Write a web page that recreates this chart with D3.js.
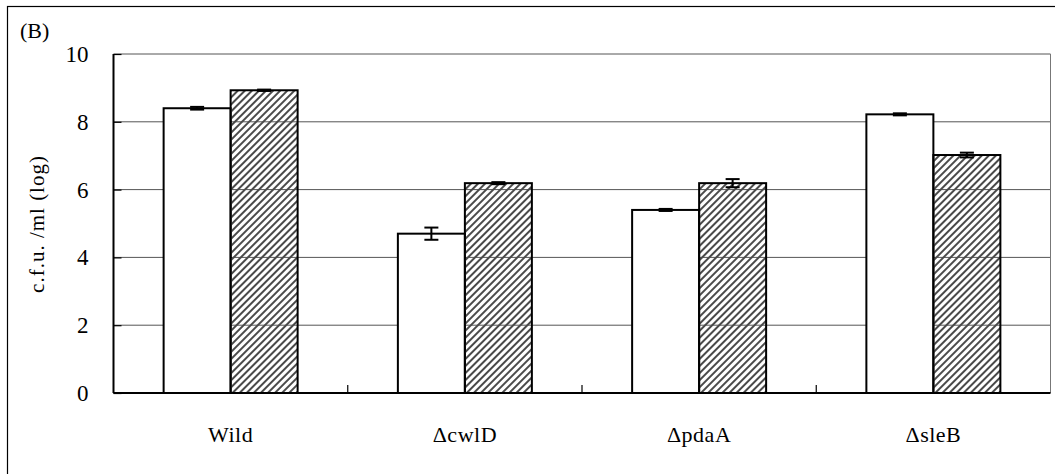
<!DOCTYPE html>
<html>
<head>
<meta charset="utf-8">
<script src="https://cdn.jsdelivr.net/npm/d3@7"></script>
<style>
  body { margin: 0; background: #fff; }
  text { font-family: "Liberation Serif", "Times New Roman", serif; fill: #000; }
</style>
</head>
<body>
<div id="chart"></div>
<script>
// data
var strains = ["Wild", "\u0394cwlD", "\u0394pdaA", "\u0394sleB"];
var openVals = [8.40, 4.70, 5.40, 8.22];
var openErr = [0.04, 0.18, 0.03, 0.03];
var hatchVals = [8.93, 6.19, 6.19, 7.02];
var hatchErr = [0.02, 0.03, 0.12, 0.07];
var yTicks = [0, 2, 4, 6, 8, 10];

var svgWidth = 1055, svgHeight = 474;
var margin = { top: 54, right: 5, bottom: 81, left: 113.5 };
var width = 1050.5 - margin.left;
var height = 393 - margin.top;

var svg = d3.select("#chart").append("svg")
  .attr("width", svgWidth)
  .attr("height", svgHeight);

// hatch pattern for second series
var defs = svg.append("defs");
defs.append("pattern")
  .attr("id", "hatch")
  .attr("patternUnits", "userSpaceOnUse")
  .attr("width", 5)
  .attr("height", 5)
  .attr("patternTransform", "rotate(45)")
  .append("rect")
  .attr("x", 0).attr("y", 0)
  .attr("width", 2).attr("height", 5)
  .attr("fill", "#4a4a4a");

// outer frame
svg.append("rect")
  .attr("x", 7.5).attr("y", 6.5)
  .attr("width", 1060).attr("height", 480)
  .attr("fill", "none")
  .attr("stroke", "#000")
  .attr("stroke-width", 1.2);

svg.append("text")
  .attr("x", 20).attr("y", 38)
  .style("font-size", "22px")
  .text("(B)");

var g = svg.append("g")
  .attr("transform", "translate(" + margin.left + "," + margin.top + ")");

var x = d3.scaleBand().domain(strains).range([0, width]).paddingInner(0).paddingOuter(0);
var y = d3.scaleLinear().domain([0, 10]).range([height, 0]);

// gridlines
g.selectAll(".grid")
  .data(yTicks.filter(function (d) { return d > 0; }))
  .enter().append("line")
  .attr("class", "grid")
  .attr("x1", 0).attr("x2", width)
  .attr("y1", function (d) { return y(d); })
  .attr("y2", function (d) { return y(d); })
  .attr("stroke", "#555")
  .attr("stroke-width", 1);

// right edge
g.append("line")
  .attr("x1", width).attr("x2", width)
  .attr("y1", 0).attr("y2", height)
  .attr("stroke", "#777");

// bars
var bw = 67;
var groups = g.selectAll(".grp")
  .data(strains)
  .enter().append("g")
  .attr("class", "grp")
  .attr("transform", function (d) { return "translate(" + (x(d) + x.bandwidth() / 2) + ",0)"; });

groups.append("rect")
  .attr("x", -bw)
  .attr("y", function (d, i) { return y(openVals[i]); })
  .attr("width", bw)
  .attr("height", function (d, i) { return height - y(openVals[i]); })
  .attr("fill", "#fff")
  .attr("stroke", "#000")
  .attr("stroke-width", 2);

groups.append("rect")
  .attr("x", 0)
  .attr("y", function (d, i) { return y(hatchVals[i]); })
  .attr("width", bw)
  .attr("height", function (d, i) { return height - y(hatchVals[i]); })
  .attr("fill", "url(#hatch)")
  .attr("stroke", "#000")
  .attr("stroke-width", 2);

// error bars
function errBar(sel, vals, errs, cx) {
  var eb = sel.append("g").attr("stroke", "#000").attr("stroke-width", 2);
  eb.append("line")
    .attr("x1", cx).attr("x2", cx)
    .attr("y1", function (d, i) { return y(vals[i] + errs[i]); })
    .attr("y2", function (d, i) { return y(vals[i] - errs[i]); });
  eb.append("line")
    .attr("x1", cx - 7).attr("x2", cx + 7)
    .attr("y1", function (d, i) { return y(vals[i] + errs[i]); })
    .attr("y2", function (d, i) { return y(vals[i] + errs[i]); });
  eb.append("line")
    .attr("x1", cx - 7).attr("x2", cx + 7)
    .attr("y1", function (d, i) { return y(vals[i] - errs[i]); })
    .attr("y2", function (d, i) { return y(vals[i] - errs[i]); });
}
errBar(groups, openVals, openErr, -bw / 2);
errBar(groups, hatchVals, hatchErr, bw / 2);

// y axis
var yAxis = d3.axisRight(y).tickValues(yTicks).tickSize(8).tickFormat("");
var ya = g.append("g").call(yAxis);
ya.select(".domain").remove();
ya.selectAll(".tick line").attr("stroke", "#000").attr("stroke-width", 1.2);
g.append("line")
  .attr("x1", 0).attr("x2", 0).attr("y1", 0).attr("y2", height)
  .attr("stroke", "#000").attr("stroke-width", 2);

g.selectAll(".ylab")
  .data(yTicks)
  .enter().append("text")
  .attr("class", "ylab")
  .attr("x", -25)
  .attr("y", function (d) { return y(d) + 8; })
  .attr("text-anchor", "end")
  .style("font-size", "23px")
  .text(function (d) { return d; });

// x axis
g.append("line")
  .attr("x1", 0).attr("x2", width).attr("y1", height).attr("y2", height)
  .attr("stroke", "#000").attr("stroke-width", 2);

var bounds = d3.range(1, strains.length).map(function (i) { return x(strains[i]); });
g.selectAll(".xtick")
  .data(bounds)
  .enter().append("line")
  .attr("x1", function (d) { return d; })
  .attr("x2", function (d) { return d; })
  .attr("y1", height).attr("y2", height - 8)
  .attr("stroke", "#000").attr("stroke-width", 1.2);

g.selectAll(".xlab")
  .data(strains)
  .enter().append("text")
  .attr("x", function (d) { return x(d) + x.bandwidth() / 2; })
  .attr("y", height + 49)
  .attr("text-anchor", "middle")
  .style("font-size", "22px")
  .style("letter-spacing", "0.5px")
  .text(function (d) { return d; });

// y title
svg.append("text")
  .attr("transform", "translate(44,224) rotate(-90)")
  .attr("text-anchor", "middle")
  .style("font-size", "21px")
  .style("letter-spacing", "1px")
  .text("c.f.u. /ml (log)");
</script>
</body>
</html>
